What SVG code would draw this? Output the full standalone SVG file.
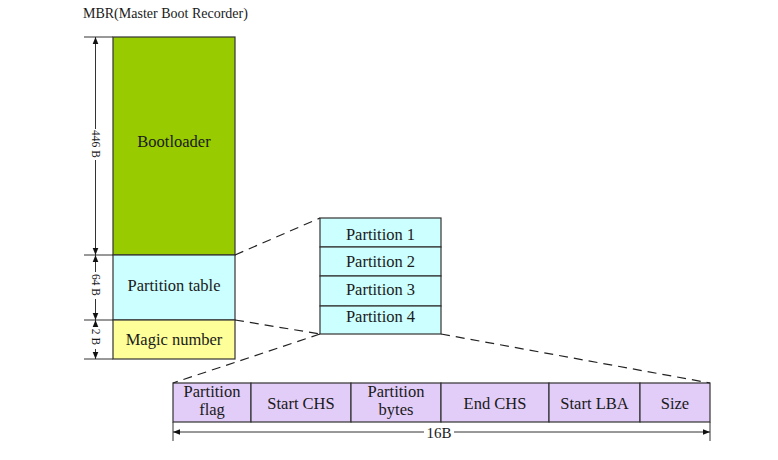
<svg xmlns="http://www.w3.org/2000/svg" width="778" height="460" viewBox="0 0 778 460">
<defs>
<style>
text{font-family:"Liberation Serif","Times New Roman",serif;fill:#1a1a1a}
.lbl{font-size:16.5px;text-anchor:middle}
.dim{font-size:11.5px;text-anchor:middle}
.box{stroke:#333;stroke-width:1.2}
.dash{stroke:#222;stroke-width:1.2;stroke-dasharray:9 6;fill:none}
.thin{stroke:#333;stroke-width:1;fill:none}
</style>
<marker id="ah" viewBox="0 0 10 10" refX="10" refY="5" markerWidth="7" markerHeight="7" orient="auto-start-reverse" markerUnits="userSpaceOnUse">
<path d="M0,1 L10,5 L0,9 z" fill="#111"/>
</marker>
</defs>
<rect width="778" height="460" fill="#fff"/>
<text x="83" y="18" style="font-size:14px">MBR(Master Boot Recorder)</text>

<g id="bootloader"><rect class="box" x="113" y="37" width="122" height="218" fill="#99CC00"/><text class="lbl" x="174" y="147">Bootloader</text></g>
<g id="partition-table"><rect class="box" x="113" y="255" width="122" height="65" fill="#CCFFFF"/><text class="lbl" x="174" y="291">Partition table</text></g>
<g id="magic-number"><rect class="box" x="113" y="320" width="122" height="39" fill="#FFFF99"/><text class="lbl" x="174" y="345">Magic number</text></g>

<g id="partition1"><rect class="box" x="320" y="218" width="121" height="29" fill="#CCFFFF"/><text class="lbl" x="380.5" y="240">Partition 1</text></g>
<g id="partition2"><rect class="box" x="320" y="247" width="121" height="29" fill="#CCFFFF"/><text class="lbl" x="380.5" y="267">Partition 2</text></g>
<g id="partition3"><rect class="box" x="320" y="276" width="121" height="30" fill="#CCFFFF"/><text class="lbl" x="380.5" y="295">Partition 3</text></g>
<g id="partition4"><rect class="box" x="320" y="306" width="121" height="28" fill="#CCFFFF"/><text class="lbl" x="380.5" y="322">Partition 4</text></g>

<g id="f-flag"><rect class="box" x="173" y="383" width="78" height="39" fill="#E2CCF8"/><text class="lbl" x="212" y="397">Partition</text><text class="lbl" x="212" y="415">flag</text></g>
<g id="f-startchs"><rect class="box" x="251" y="383" width="100" height="39" fill="#E2CCF8"/><text class="lbl" x="301" y="409">Start CHS</text></g>
<g id="f-bytes"><rect class="box" x="351" y="383" width="90" height="39" fill="#E2CCF8"/><text class="lbl" x="396" y="397">Partition</text><text class="lbl" x="396" y="415">bytes</text></g>
<g id="f-endchs"><rect class="box" x="441" y="383" width="108" height="39" fill="#E2CCF8"/><text class="lbl" x="495" y="409">End CHS</text></g>
<g id="f-startlba"><rect class="box" x="549" y="383" width="91" height="39" fill="#E2CCF8"/><text class="lbl" x="594.5" y="409">Start LBA</text></g>
<g id="f-size"><rect class="box" x="640" y="383" width="70" height="39" fill="#E2CCF8"/><text class="lbl" x="675" y="409">Size</text></g>

<g id="connectors">
<line class="dash" x1="235" y1="255" x2="320" y2="218"/>
<line class="dash" x1="235" y1="320" x2="320" y2="334"/>
<line class="dash" x1="320" y1="334" x2="173" y2="383"/>
<line class="dash" x1="441" y1="334" x2="710" y2="383"/>

<line class="thin" x1="84" y1="37" x2="113" y2="37"/>
<line class="thin" x1="84" y1="255" x2="113" y2="255"/>
<line class="thin" x1="84" y1="320" x2="113" y2="320"/>
<line class="thin" x1="84" y1="359" x2="113" y2="359"/>

<line class="thin" x1="95.5" y1="37" x2="95.5" y2="129" marker-start="url(#ah)"/>
<line class="thin" x1="95.5" y1="160" x2="95.5" y2="255" marker-end="url(#ah)"/>
<line class="thin" x1="95.5" y1="255" x2="95.5" y2="272" marker-start="url(#ah)"/>
<line class="thin" x1="95.5" y1="299" x2="95.5" y2="320" marker-end="url(#ah)"/>
<line class="thin" x1="95.5" y1="320" x2="95.5" y2="324" marker-start="url(#ah)"/>
<line class="thin" x1="95.5" y1="349" x2="95.5" y2="359" marker-end="url(#ah)"/>
<text class="dim" transform="translate(91.5,144) rotate(90)">446 B</text>
<text class="dim" transform="translate(91.5,285) rotate(90)">64 B</text>
<text class="dim" transform="translate(91.5,337) rotate(90)">2 B</text>

<line class="thin" x1="173" y1="422" x2="173" y2="441"/>
<line class="thin" x1="710" y1="422" x2="710" y2="441"/>
<line class="thin" x1="173" y1="432" x2="424" y2="432" marker-start="url(#ah)"/>
<line class="thin" x1="454" y1="432" x2="710" y2="432" marker-end="url(#ah)"/>
<text x="439" y="437.5" style="font-size:15px;text-anchor:middle">16B</text>
</g>
</svg>
